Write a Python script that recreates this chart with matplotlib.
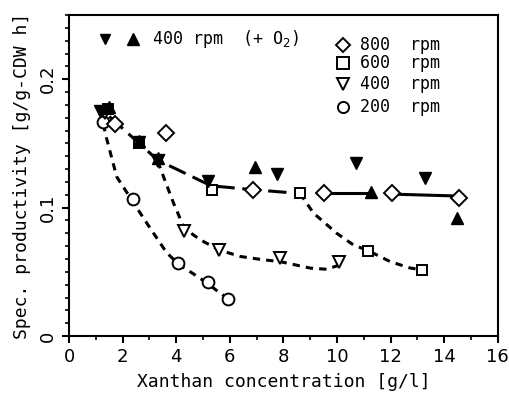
import numpy as np
import matplotlib.pyplot as plt
from matplotlib.ticker import MultipleLocator, FixedLocator

# measured points
x200 = [1.26, 2.40, 4.08, 5.17, 5.95]
y200 = [0.167, 0.107, 0.057, 0.042, 0.029]

x400 = [1.35, 3.31, 4.30, 5.61, 7.87, 10.09]
y400 = [0.174, 0.136, 0.0815, 0.067, 0.0607, 0.0573]

x600 = [1.47, 2.62, 5.32, 8.62, 11.17, 13.16]
y600 = [0.177, 0.150, 0.114, 0.111, 0.0664, 0.0516]

x800 = [1.72, 3.62, 6.85, 9.51, 12.07, 14.56]
y800 = [0.165, 0.158, 0.114, 0.1115, 0.1115, 0.1075]

# 400 rpm with oxygen
xo2_dn = [1.16, 2.62, 3.31, 5.20, 7.75, 10.71, 13.28]
yo2_dn = [0.175, 0.151, 0.137, 0.1206, 0.126, 0.135, 0.123]
xo2_up = [1.50, 2.62, 3.31, 6.94, 11.26, 14.47]
yo2_up = [0.178, 0.152, 0.139, 0.132, 0.112, 0.092]

# fitted curves as drawn in the figure
c200_x = [1.28, 1.40, 1.78, 2.40, 2.90, 3.64, 4.08, 4.60, 5.17, 5.60, 5.95]
c200_y = [0.165, 0.154, 0.124, 0.104, 0.088, 0.065, 0.056, 0.049, 0.041, 0.034, 0.029]
c400_x = [3.31, 3.89, 4.30, 4.89, 5.61, 6.38, 7.24, 7.87, 9.00, 9.61, 10.05]
c400_y = [0.136, 0.104, 0.084, 0.075, 0.067, 0.062, 0.0594, 0.058, 0.0529, 0.052, 0.055]
c600_x = [8.62, 9.12, 9.99, 10.61, 11.17, 11.98, 12.72, 13.16]
c600_y = [0.111, 0.0958, 0.080, 0.071, 0.0664, 0.058, 0.053, 0.0516]
c800_x = [1.50, 2.62, 3.31, 5.30, 6.85, 8.62]
c800_y = [0.171, 0.150, 0.137, 0.117, 0.114, 0.111]
seg1_x = [9.51, 11.26]
seg1_y = [0.111, 0.111]
seg2_x = [12.07, 14.56]
seg2_y = [0.1105, 0.109]

plt.rcParams['font.family'] = 'DejaVu Sans'
mono = 'DejaVu Sans Mono'
fig = plt.figure(figsize=(5.09, 4.01), dpi=100)
ax = fig.add_axes([0.1356, 0.162, 0.8424, 0.8006])

lw = 2.2
ax.plot(c200_x, c200_y, color='black', lw=lw, dashes=(2.4, 2.0))
ax.plot(c400_x, c400_y, color='black', lw=lw, dashes=(2.4, 2.0))
ax.plot(c600_x, c600_y, color='black', lw=lw, dashes=(2.4, 2.0))
ax.plot(c800_x, c800_y, color='black', lw=lw, dashes=(6, 2.5))
ax.plot(seg1_x, seg1_y, color='black', lw=lw)
ax.plot(seg2_x, seg2_y, color='black', lw=lw)

ms = 8.5
kw = dict(ls='none', mfc='white', mec='black', mew=1.4, ms=ms)
ax.plot(x200, y200, marker='o', **kw)
ax.plot(x400, y400, marker='v', **kw)
ax.plot(x600, y600, marker='s', ms=ms - 1, ls='none', mfc='white', mec='black', mew=1.4)
ax.plot(x800, y800, marker='D', ms=ms - 0.8, ls='none', mfc='white', mec='black', mew=1.4)
ax.plot(xo2_dn, yo2_dn, marker='v', ls='none', color='black', ms=ms)
ax.plot(xo2_up, yo2_up, marker='^', ls='none', color='black', ms=ms)

ax.set_xlim(0, 16)
ax.set_ylim(0, 0.25)
ax.xaxis.set_major_locator(MultipleLocator(2))
ax.xaxis.set_minor_locator(MultipleLocator(1))
ax.yaxis.set_major_locator(FixedLocator([0, 0.1, 0.2]))
ax.yaxis.set_minor_locator(MultipleLocator(0.01))
ax.set_yticklabels(['0', '0.1', '0.2'], rotation=90, va='center')
ax.tick_params(which='major', direction='out', length=5, width=1.5, labelsize=13)
ax.tick_params(which='minor', direction='out', length=3, width=1.2)
for s in ax.spines.values():
    s.set_linewidth(1.5)

ax.set_xlabel('Xanthan concentration [g/l]', fontsize=13, family=mono, labelpad=5)
ax.set_ylabel('Spec. productivity [g/g-CDW h]', fontsize=13, family=mono, labelpad=6)

# legend drawn as in the original figure
tf = 12
ax.plot([1.34], [0.231], marker='v', color='black', ms=7.5, ls='none')
ax.plot([2.39], [0.231], marker='^', color='black', ms=8, ls='none')
ax.text(3.1, 0.231, '400 rpm  (+ O$_2$)', fontsize=tf, family=mono, va='center')

leg_y = [0.227, 0.2125, 0.196, 0.178]
leg_m = ['D', 's', 'v', 'o']
leg_t = ['800  rpm', '600  rpm', '400  rpm', '200  rpm']
for yy, m, t in zip(leg_y, leg_m, leg_t):
    ax.plot([10.22], [yy], marker=m, ls='none', mfc='white', mec='black', mew=1.4,
            ms=8 if m != 'D' else 7)
    ax.text(10.86, yy, t, fontsize=tf, family=mono, va='center')

fig.savefig('out.png', dpi=100)
